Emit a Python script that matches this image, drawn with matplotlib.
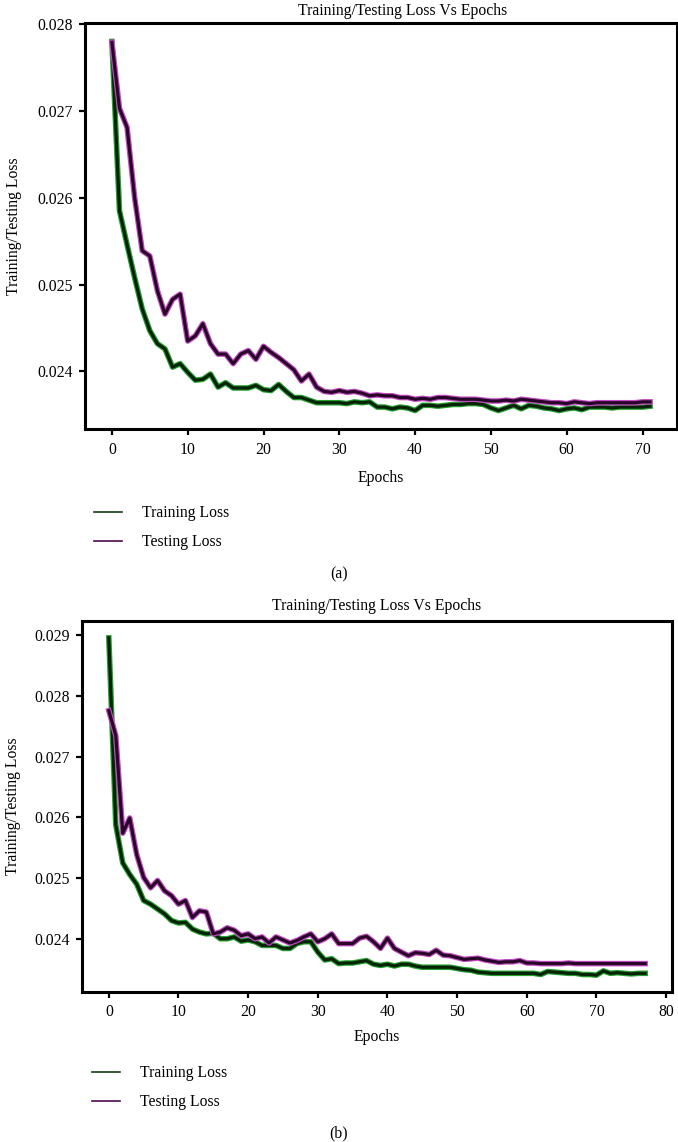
import numpy as np
import matplotlib
matplotlib.use("Agg")
import matplotlib.pyplot as plt
import matplotlib.patheffects as pe
from matplotlib.lines import Line2D

plt.rcParams['font.family'] = ['Liberation Serif', 'DejaVu Serif']

# ---------------- data ----------------
epochs_a = list(range(72))
train_a = [0.02780, 0.02585, 0.02546, 0.02508, 0.02472, 0.02447, 0.02432, 0.02426, 0.02405, 0.02409,
           0.02399, 0.02390, 0.02391, 0.02397, 0.02382, 0.02387, 0.02381, 0.02381, 0.02381, 0.02384,
           0.02379, 0.02378, 0.02385, 0.02377, 0.02370, 0.02370, 0.02367, 0.02364, 0.02364, 0.02364,
           0.02364, 0.02363, 0.02365, 0.02364, 0.02365, 0.02359, 0.02359, 0.02357, 0.02359, 0.02358,
           0.02355, 0.02361, 0.02361, 0.02360, 0.02361, 0.02362, 0.02362, 0.02363, 0.02363, 0.02362,
           0.02358, 0.02355, 0.02358, 0.02361, 0.02357, 0.02361, 0.02360, 0.02358, 0.02357, 0.02355,
           0.02357, 0.02358, 0.02356, 0.02359, 0.02359, 0.02359, 0.02358, 0.02359, 0.02359, 0.02359,
           0.02359, 0.02360]
test_a = [0.02779, 0.02703, 0.02681, 0.02600, 0.02539, 0.02533, 0.02493, 0.02466, 0.02483, 0.02489,
          0.02435, 0.02441, 0.02455, 0.02432, 0.02420, 0.02420, 0.02409, 0.02420, 0.02424, 0.02414,
          0.02429, 0.02422, 0.02416, 0.02409, 0.02402, 0.02389, 0.02397, 0.02382, 0.02377, 0.02376,
          0.02378, 0.02376, 0.02377, 0.02375, 0.02372, 0.02373, 0.02372, 0.02372, 0.02370, 0.02370,
          0.02368, 0.02369, 0.02368, 0.02370, 0.02370, 0.02369, 0.02368, 0.02368, 0.02368, 0.02367,
          0.02366, 0.02366, 0.02367, 0.02366, 0.02368, 0.02367, 0.02366, 0.02365, 0.02364, 0.02364,
          0.02363, 0.02365, 0.02364, 0.02363, 0.02364, 0.02364, 0.02364, 0.02364, 0.02364, 0.02364,
          0.02365, 0.02365]

epochs_b = list(range(78))
train_b = [0.02896, 0.02588, 0.02525, 0.02506, 0.02490, 0.02463, 0.02457, 0.02449, 0.02441, 0.02430,
           0.02426, 0.02427, 0.02416, 0.02411, 0.02408, 0.02409, 0.02400, 0.02400, 0.02403, 0.02396,
           0.02398, 0.02395, 0.02389, 0.02389, 0.02389, 0.02384, 0.02384, 0.02392, 0.02395, 0.02395,
           0.02378, 0.02365, 0.02367, 0.02359, 0.02360, 0.02360, 0.02362, 0.02364, 0.02358, 0.02356,
           0.02358, 0.02355, 0.02358, 0.02358, 0.02355, 0.02353, 0.02353, 0.02353, 0.02353, 0.02353,
           0.02351, 0.02349, 0.02348, 0.02345, 0.02344, 0.02343, 0.02343, 0.02343, 0.02343, 0.02343,
           0.02343, 0.02343, 0.02341, 0.02346, 0.02345, 0.02344, 0.02343, 0.02343, 0.02341, 0.02341,
           0.02340, 0.02347, 0.02343, 0.02344, 0.02343, 0.02342, 0.02343, 0.02343]
test_b = [0.02776, 0.02735, 0.02574, 0.02599, 0.02539, 0.02501, 0.02484, 0.02496, 0.02479, 0.02471,
          0.02457, 0.02463, 0.02435, 0.02446, 0.02444, 0.02408, 0.02411, 0.02418, 0.02414, 0.02405,
          0.02408, 0.02400, 0.02403, 0.02393, 0.02403, 0.02398, 0.02393, 0.02397, 0.02403, 0.02408,
          0.02395, 0.02400, 0.02408, 0.02392, 0.02392, 0.02392, 0.02401, 0.02404, 0.02395, 0.02384,
          0.02401, 0.02384, 0.02378, 0.02372, 0.02377, 0.02376, 0.02374, 0.02381, 0.02373, 0.02372,
          0.02369, 0.02366, 0.02367, 0.02368, 0.02365, 0.02363, 0.02361, 0.02362, 0.02362, 0.02364,
          0.02360, 0.02360, 0.02359, 0.02359, 0.02359, 0.02359, 0.02360, 0.02359, 0.02359, 0.02359,
          0.02359, 0.02359, 0.02359, 0.02359, 0.02359, 0.02359, 0.02359, 0.02359]

title = "Training/Testing Loss Vs Epochs"
ylabel = "Training/Testing Loss"
xlabel = "Epochs"
labels = ["Training Loss", "Testing Loss"]
captions = ["(a)", "(b)"]

# ---------------- style ----------------
W, H = 678, 1142
FS = 11.3
train_core, train_halo = '#082208', '#23a02e'
test_core, test_halo = '#280628', '#c24ac2'
leg_train, leg_test = '#123d12', '#500a50'

fig = plt.figure(figsize=(W / 100, H / 100), dpi=100)


def fx(px):
    return px / W


def fy(py):
    return 1 - py / H


def panel(rect, ep, tr, te, title_dx, title_pad, leg_top, leg_left, cap_y, caption, xticks,
          ylabelpad, xlabelpad):
    l, t, r, b = rect
    ax = fig.add_axes([fx(l), fy(b), fx(r) - fx(l), fy(t) - fy(b)])
    ax.plot(ep, tr, color=train_core, lw=2.3,
            path_effects=[pe.Stroke(linewidth=4.0, foreground=train_halo), pe.Normal()])
    ax.plot(ep, te, color=test_core, lw=2.3,
            path_effects=[pe.Stroke(linewidth=4.0, foreground=test_halo), pe.Normal()])
    for s in ax.spines.values():
        s.set_linewidth(2.2)
        s.set_color('black')
    ax.tick_params(axis='both', which='both', direction='out', length=4, width=1.6,
                   labelsize=FS, pad=5, top=False, right=False)
    ax.set_xticks(xticks)
    ax.yaxis.set_major_formatter(matplotlib.ticker.FormatStrFormatter('%.3f'))
    ax.set_xlabel(xlabel, fontsize=FS, labelpad=xlabelpad)
    ax.set_ylabel(ylabel, fontsize=FS, labelpad=ylabelpad)
    ax.set_title(title, fontsize=FS, pad=title_pad, x=0.5 + title_dx)
    handles = [Line2D([], [], color=leg_train, lw=1.2), Line2D([], [], color=leg_test, lw=1.2)]
    fig.legend(handles, labels, loc='upper left', bbox_to_anchor=(fx(leg_left), fy(leg_top)),
               frameon=False, fontsize=FS, handlelength=1.8, handletextpad=1.25,
               labelspacing=0.85, borderpad=0, borderaxespad=0)
    fig.text(0.5, fy(cap_y), caption, ha='center', va='center', fontsize=FS)
    return ax


ax_a = panel((85, 23, 677, 429), epochs_a, train_a, test_a, 0.037, 6, 505, 94, 574, captions[0],
             [0, 10, 20, 30, 40, 50, 60, 70], 11, 9)
ax_b = panel((82, 621, 672, 992), epochs_b, train_b, test_b, 0.0, 8, 1065, 92, 1133, captions[1],
             [0, 10, 20, 30, 40, 50, 60, 70, 80], 9, 6)
ax_b.set_yticks([0.024, 0.025, 0.026, 0.027, 0.028, 0.029])

fig.savefig('out.png', dpi=100)
